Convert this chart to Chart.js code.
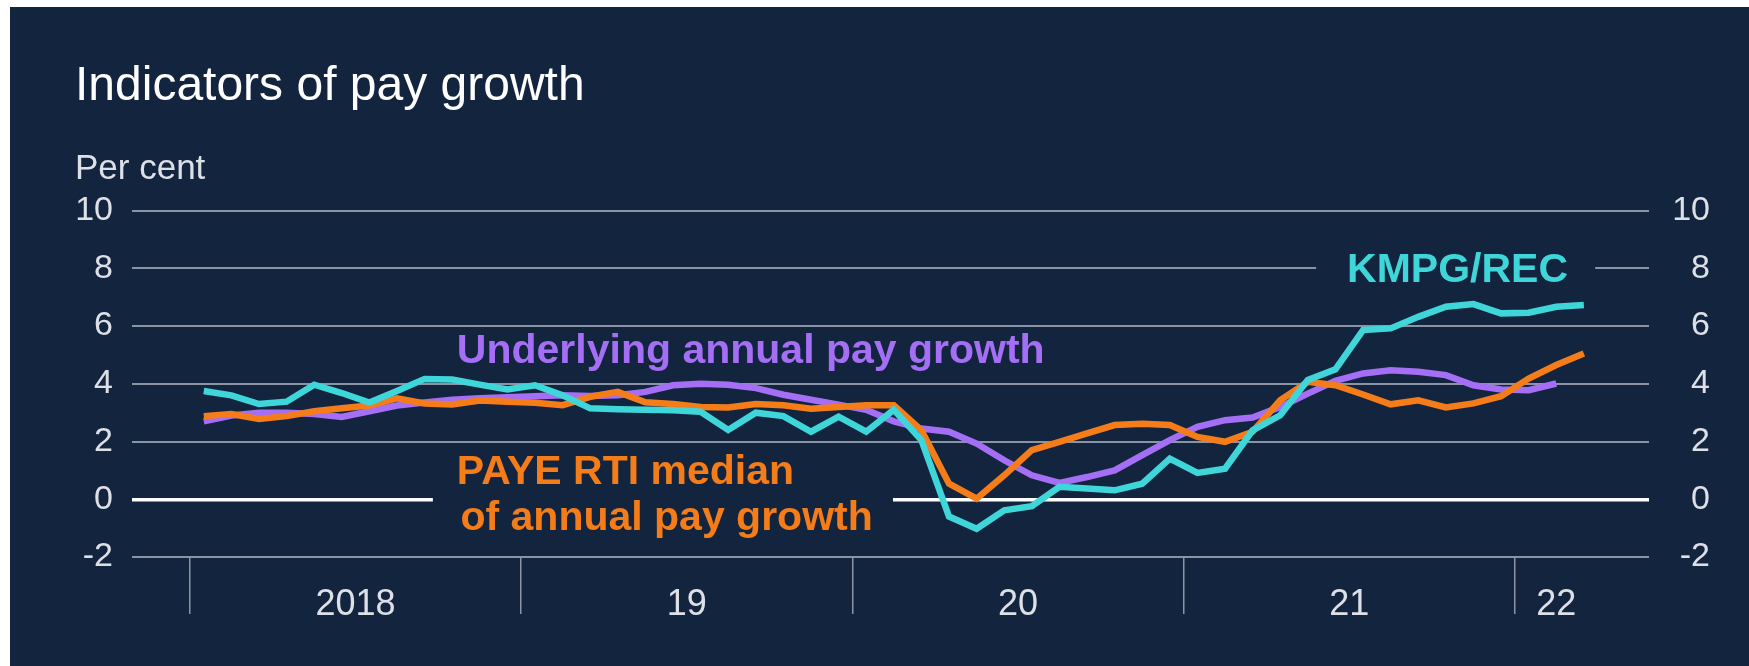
<!DOCTYPE html>
<html>
<head>
<meta charset="utf-8">
<title>Indicators of pay growth</title>
<script src="https://cdn.jsdelivr.net/npm/chart.js@4.4.1/dist/chart.umd.min.js"></script>
<style>
  html, body { margin: 0; padding: 0; background: #ffffff; }
  #wrap { position: absolute; left: 10px; top: 7px; width: 1739px; height: 659px; background: #13243f; }
</style>
</head>
<body>
<div id="wrap"><canvas id="payChart"></canvas></div>
<script>
// Monthly, Jan 2018 to Mar 2022
const months = [
  'Jan 18', 'Feb 18', 'Mar 18', 'Apr 18', 'May 18', 'Jun 18', 'Jul 18', 'Aug 18', 'Sep 18', 'Oct 18', 'Nov 18', 'Dec 18',
  'Jan 19', 'Feb 19', 'Mar 19', 'Apr 19', 'May 19', 'Jun 19', 'Jul 19', 'Aug 19', 'Sep 19', 'Oct 19', 'Nov 19', 'Dec 19',
  'Jan 20', 'Feb 20', 'Mar 20', 'Apr 20', 'May 20', 'Jun 20', 'Jul 20', 'Aug 20', 'Sep 20', 'Oct 20', 'Nov 20', 'Dec 20',
  'Jan 21', 'Feb 21', 'Mar 21', 'Apr 21', 'May 21', 'Jun 21', 'Jul 21', 'Aug 21', 'Sep 21', 'Oct 21', 'Nov 21', 'Dec 21',
  'Jan 22', 'Feb 22', 'Mar 22'
];

const kpmgRec = [3.75, 3.6, 3.3, 3.38, 3.97, 3.68, 3.35, 3.75, 4.17, 4.15,
  3.97, 3.8, 3.95, 3.6, 3.15, 3.12, 3.1, 3.08, 3.03, 2.4,
  3.0, 2.88, 2.34, 2.86, 2.34, 3.1, 2.05, -0.6, -1.02, -0.38,
  -0.24, 0.43, 0.37, 0.31, 0.54, 1.41, 0.91, 1.06, 2.39, 2.91,
  4.13, 4.5, 5.86, 5.92, 6.32, 6.67, 6.76, 6.44, 6.46, 6.67, 6.73];

const payeRti = [2.88, 2.95, 2.78, 2.88, 3.05, 3.15, 3.25, 3.5, 3.32, 3.28,
  3.42, 3.38, 3.34, 3.26, 3.55, 3.72, 3.36, 3.3, 3.2, 3.18,
  3.3, 3.26, 3.14, 3.2, 3.26, 3.26, 2.39, 0.54, 0.02, 0.83,
  1.7, 1.99, 2.28, 2.57, 2.62, 2.57, 2.16, 1.99, 2.34, 3.43,
  4.07, 3.95, 3.63, 3.29, 3.43, 3.18, 3.32, 3.57, 4.18, 4.65, 5.05];

const underlying = [2.7, 2.9, 3.0, 3.0, 2.95, 2.85, 3.05, 3.25, 3.35, 3.45,
  3.5, 3.53, 3.57, 3.6, 3.58, 3.6, 3.72, 3.95, 4.0, 3.97,
  3.85, 3.62, 3.45, 3.28, 3.1, 2.7, 2.45, 2.34, 1.93, 1.35,
  0.83, 0.57, 0.77, 1.0, 1.53, 2.05, 2.51, 2.74, 2.83, 3.2,
  3.66, 4.1, 4.36, 4.47, 4.42, 4.3, 3.95, 3.8, 3.78, 4.01];

// x axis: months since Jan 2018
const yearTicks = [0, 12, 24, 36, 48];
const yearLabelPos = [6, 18, 30, 42, 49.5];
const yearLabels = ['2018', '19', '20', '21', '22'];

const BG = '#13243f';
const GRID = '#8a94a4';
const TEXT = '#dde1e7';
const TEAL = '#3ed6d8';
const ORANGE = '#f47d1a';
const PURPLE = '#a46ef5';

// on-chart series names (anchored in data units) and gridline gaps behind them
const seriesLabels = [
  { text: 'Underlying annual pay growth', color: PURPLE, x: 9.67, y: 4.72 },
  { text: 'PAYE RTI median', color: ORANGE, x: 9.67, y: 0.52 },
  { text: 'of annual pay growth', color: ORANGE, x: 9.8, y: -1.08 },
  { text: 'KMPG/REC', color: TEAL, x: 41.92, y: 7.53 }
];
const gridGaps = [
  { value: 0, from: 8.8, to: 25.47 },
  { value: 8, from: 40.8, to: 50.91 }
];

const toPoints = arr => arr.map((v, i) => ({ x: i + 0.5, y: v }));

Chart.defaults.font.family = "'Liberation Sans', Arial, sans-serif";

const lineLabels = {
  id: 'lineLabels',
  beforeDatasetsDraw(chart) {
    const { ctx, scales: { x, y } } = chart;
    ctx.save();
    ctx.fillStyle = BG;
    gridGaps.forEach(g => {
      const py = y.getPixelForValue(g.value);
      const x0 = x.getPixelForValue(g.from);
      ctx.fillRect(x0, py - 4, x.getPixelForValue(g.to) - x0, 8);
    });
    ctx.font = "bold 41px 'Liberation Sans', Arial, sans-serif";
    ctx.textAlign = 'left';
    ctx.textBaseline = 'alphabetic';
    seriesLabels.forEach(l => {
      ctx.fillStyle = l.color;
      ctx.fillText(l.text, x.getPixelForValue(l.x), y.getPixelForValue(l.y));
    });
    ctx.restore();
  }
};

const ctxPay = document.getElementById('payChart').getContext('2d');
new Chart(ctxPay, {
  type: 'line',
  data: {
    datasets: [
      { label: 'KMPG/REC', data: toPoints(kpmgRec), borderColor: TEAL, borderWidth: 6.5, pointRadius: 0, tension: 0 },
      { label: 'PAYE RTI median of annual pay growth', data: toPoints(payeRti), borderColor: ORANGE, borderWidth: 6.5, pointRadius: 0, tension: 0 },
      { label: 'Underlying annual pay growth', data: toPoints(underlying), borderColor: PURPLE, borderWidth: 6.5, pointRadius: 0, tension: 0 }
    ]
  },
  options: {
    responsive: true,
    maintainAspectRatio: false,
    animation: false,
    events: [],
    layout: { padding: { left: 65, right: 39, top: 0, bottom: 0 } },
    plugins: {
      legend: { display: false },
      tooltip: { enabled: false },
      title: {
        display: true, text: 'Indicators of pay growth', align: 'start', color: '#ffffff',
        font: { size: 48, weight: 'normal' }, padding: { top: 51, bottom: 0 }
      },
      subtitle: {
        display: true, text: 'Per cent', align: 'start', color: TEXT,
        font: { size: 35, weight: 'normal' }, padding: { top: 33, bottom: 20 }
      }
    },
    scales: {
      x: {
        type: 'linear',
        min: -2.1,
        max: 52.86,
        afterBuildTicks: axis => {
          axis.ticks = [...yearTicks, ...yearLabelPos].sort((a, b) => a - b).map(v => ({ value: v }));
        },
        afterFit: axis => { axis.height = 109; },
        grid: {
          drawOnChartArea: false,
          drawTicks: true,
          tickLength: 57,
          lineWidth: 1.5,
          color: c => (c.tick && yearTicks.includes(c.tick.value)) ? GRID : 'rgba(0,0,0,0)'
        },
        border: { display: false },
        ticks: {
          autoSkip: false,
          maxRotation: 0,
          padding: -31,
          color: TEXT,
          font: { size: 36 },
          callback: v => {
            const k = yearLabelPos.indexOf(v);
            return k >= 0 ? yearLabels[k] : '';
          }
        }
      },
      y: {
        position: 'left',
        min: -2,
        max: 10,
        afterFit: axis => { axis.width = 57; },
        grid: {
          drawTicks: false,
          color: c => (c.tick && c.tick.value === 0) ? '#ffffff' : GRID,
          lineWidth: c => (c.tick && c.tick.value === 0) ? 3.5 : 2
        },
        border: { display: false },
        ticks: { stepSize: 2, padding: 19, color: TEXT, font: { size: 34 } }
      },
      y2: {
        position: 'right',
        min: -2,
        max: 10,
        afterFit: axis => { axis.width = 61; },
        grid: { display: false },
        border: { display: false },
        ticks: { stepSize: 2, crossAlign: 'far', color: TEXT, font: { size: 34 } }
      }
    }
  },
  plugins: [lineLabels]
});
</script>
</body>
</html>
